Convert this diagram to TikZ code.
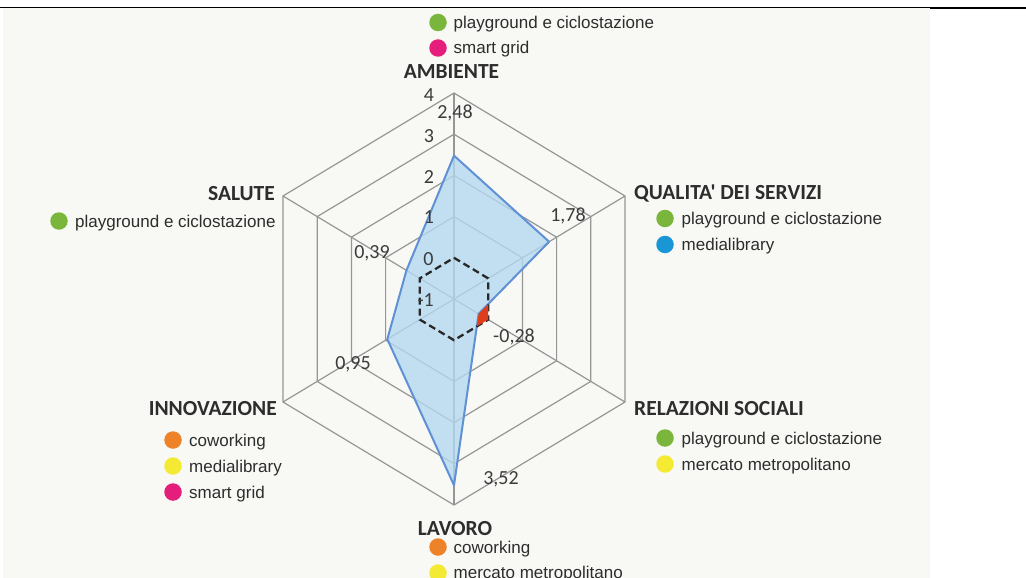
\documentclass[tikz,border=0pt]{standalone}
\usepackage{fontspec}
\setmainfont{Liberation Sans}
\newfontfamily\numfont{Carlito}
\newfontfamily\catfont{Carlito}
\definecolor{bgpanel}{RGB}{248,248,245}
\definecolor{gridgray}{RGB}{150,150,150}
\definecolor{datafill}{RGB}{180,216,240}
\definecolor{dataline}{RGB}{95,145,212}
\definecolor{negred}{RGB}{222,62,28}
\definecolor{dashdark}{RGB}{40,40,40}
\definecolor{txtdark}{RGB}{45,45,45}
\definecolor{numgray}{RGB}{60,60,60}
\definecolor{dgreen}{RGB}{122,182,60}
\definecolor{dpink}{RGB}{228,30,122}
\definecolor{dblue}{RGB}{25,150,212}
\definecolor{dyellow}{RGB}{244,234,52}
\definecolor{dorange}{RGB}{238,130,40}
\begin{document}
\begin{tikzpicture}[x=1pt,y=-1pt,
  gridline/.style={draw=gridgray,line width=1.2pt},
  legdot/.style={circle,inner sep=0pt,minimum size=17.5pt},
  legtext/.style={anchor=base west,inner sep=0pt,text=txtdark,font=\fontsize{17}{20}\selectfont},
  cattext/.style={inner sep=0pt,text=txtdark,font=\catfont\bfseries\fontsize{21.5}{24}\selectfont},
  numtext/.style={anchor=base,inner sep=0pt,text=numgray,font=\numfont\fontsize{20}{22}\selectfont}]
\useasboundingbox (0,0) rectangle (1026,578);
\fill[bgpanel] (3,8) rectangle (930,578);
\draw[line width=1.2pt] (0,7.5) -- (930,7.5);
\draw[line width=2.4pt] (930,8.2) -- (1026,8.2);

\begin{scope}[shift={(454,299)},x=34.2pt,y=-20.6pt]
  % grid rings (values 1..4)
  \foreach \r in {2,3,4,5}
    \draw[gridline] (0,-2*\r) -- (\r,-\r) -- (\r,\r) -- (0,2*\r) -- (-\r,\r) -- (-\r,-\r) -- cycle;
  % spokes
  \coordinate (c) at (0,0);
  \coordinate (vamb) at (0,-10);
  \coordinate (vqual) at (5,-5);
  \coordinate (vrel) at (5,5);
  \coordinate (vlav) at (0,10);
  \coordinate (vinn) at (-5,5);
  \coordinate (vsal) at (-5,-5);
  \foreach \v in {vamb,vqual,vrel,vlav,vinn,vsal}
    \draw[gridline] (c) -- (\v);
  % data
  \coordinate (amb) at (0,-6.96);
  \coordinate (qual) at (2.78,-2.78);
  \coordinate (rel) at (0.72,0.72);
  \coordinate (lav) at (0,9.04);
  \coordinate (inn) at (-1.95,1.95);
  \coordinate (sal) at (-1.39,-1.39);
  \fill[datafill,fill opacity=0.78] (amb) -- (qual) -- (rel) -- (lav) -- (inn) -- (sal) -- cycle;
  \draw[dataline,line width=2pt,line join=round] (amb) -- (qual) -- (rel) -- (lav) -- (inn) -- (sal) -- cycle;
  % zero ring
  \draw[dashdark,line width=2.3pt,dash pattern=on 7pt off 4pt] (0,-2) -- (1,-1) -- (1,1) -- (0,2) -- (-1,1) -- (-1,-1) -- cycle;
  % negative part
  \coordinate (na) at (1,0.244);
  \coordinate (nv) at (1,1);
  \coordinate (nb) at (0.667,1.333);
  \fill[negred] (rel) -- (na) -- (nv) -- (nb) -- cycle;
\end{scope}

% scale labels
\node[numtext] (s4) at (429,101.3) {4};
\node[numtext] (s3) at (429,142.3) {3};
\node[numtext] (s2) at (429,183.3) {2};
\node[numtext] (s1) at (429,223.5) {1};
\node[numtext] (s0) at (428.5,265.3) {0};
\node[numtext,anchor=base east] (sm1) at (434,306.3) {-1};

% data labels
\node[numtext] (l1) at (455,118.3) {2,48};
\node[numtext] (l2) at (568,221.3) {1,78};
\node[numtext] (l3) at (514,342.3) {-0,28};
\node[numtext] (l4) at (501,484.3) {3,52};
\node[numtext] (l5) at (372,258.3) {0,39};
\node[numtext] (l6) at (353,369.3) {0,95};

% AMBIENTE
\node[legdot,fill=dgreen] (a1) at (438,22.5) {};
\node[legtext] (a1t) at (453.5,28.5) {playground e ciclostazione};
\node[legdot,fill=dpink] (a2) at (438,48) {};
\node[legtext] (a2t) at (453.5,54) {smart grid};
\node[cattext,anchor=base] (amblab) at (451.5,78) {AMBIENTE};

% QUALITA'
\node[cattext,anchor=base west] (quallab) at (634,199) {QUALITA' DEI SERVIZI};
\node[legdot,fill=dgreen] (q1) at (665,218.5) {};
\node[legtext] (q1t) at (681.5,224.5) {playground e ciclostazione};
\node[legdot,fill=dblue] (q2) at (665,244.5) {};
\node[legtext] (q2t) at (681.5,250.5) {medialibrary};

% RELAZIONI SOCIALI
\node[cattext,anchor=base west] (rellab) at (634,415) {RELAZIONI SOCIALI};
\node[legdot,fill=dgreen] (r1) at (665,438) {};
\node[legtext] (r1t) at (681.5,444) {playground e ciclostazione};
\node[legdot,fill=dyellow] (r2) at (665,464) {};
\node[legtext] (r2t) at (681.5,470) {mercato metropolitano};

% SALUTE
\node[cattext,anchor=base east] (sallab) at (275,200) {SALUTE};
\node[legdot,fill=dgreen] (sa1) at (59,221) {};
\node[legtext] (sa1t) at (75,227) {playground e ciclostazione};

% INNOVAZIONE
\node[cattext,anchor=base east] (innlab) at (277,415) {INNOVAZIONE};
\node[legdot,fill=dorange] (i1) at (173,440) {};
\node[legtext] (i1t) at (189,446) {coworking};
\node[legdot,fill=dyellow] (i2) at (173,466) {};
\node[legtext] (i2t) at (189,472) {medialibrary};
\node[legdot,fill=dpink] (i3) at (173,492) {};
\node[legtext] (i3t) at (189,498) {smart grid};

% LAVORO
\node[cattext,anchor=base] (lavlab) at (455,535) {LAVORO};
\node[legdot,fill=dorange] (w1) at (438,547) {};
\node[legtext] (w1t) at (453.5,553) {coworking};
\node[legdot,fill=dyellow] (w2) at (438,573) {};
\node[legtext] (w2t) at (453.5,578.5) {mercato metropolitano};
\end{tikzpicture}
\end{document}
